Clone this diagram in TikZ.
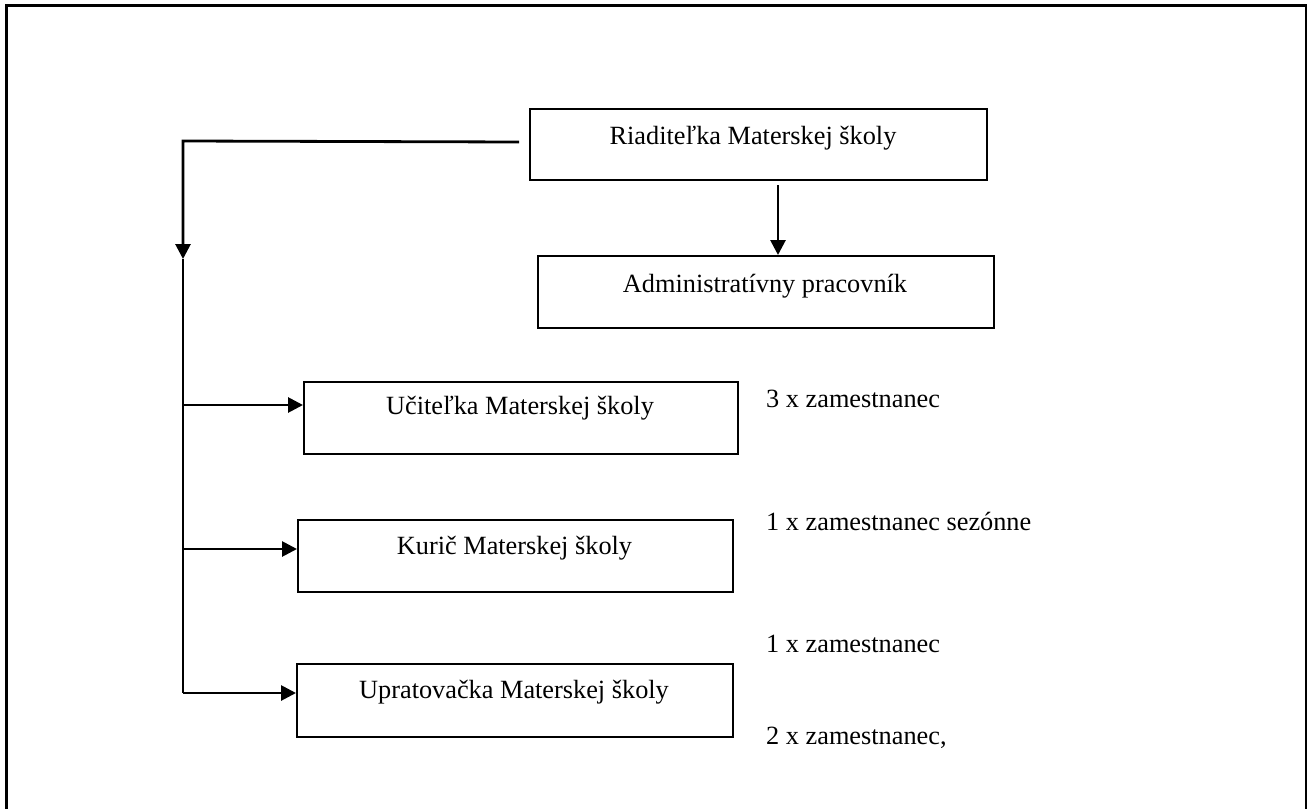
\documentclass[tikz,border=0pt]{standalone}
\usepackage{fontspec}
\setmainfont{Liberation Serif}
\usetikzlibrary{arrows.meta}
\begin{document}
\begin{tikzpicture}[x=1pt,y=-1pt,
  box/.style={draw,line width=2pt,inner sep=0pt,anchor=north west},
  conn/.style={line width=2.8pt},
  arr/.style={conn,-{Triangle[length=15pt,width=15pt]}},
  lbl/.style={font=\fontsize{26.3}{30}\selectfont,anchor=base,inner sep=0pt},
  side/.style={font=\fontsize{26.3}{30}\selectfont,anchor=base west,inner sep=0pt}]
\useasboundingbox (0,0) rectangle (1308,808);
% outer frame
\draw[line width=2.4pt] (6.5,820) -- (6.5,5.5) -- (1306,5.5) -- (1306,820);
% boxes
\node[box,minimum width=457pt,minimum height=71pt] (riad) at (529,108) {};
\node[box,minimum width=456pt,minimum height=72pt] (adm) at (537,255) {};
\node[box,minimum width=434pt,minimum height=72pt] (uc) at (303,381) {};
\node[box,minimum width=435pt,minimum height=72pt] (kur) at (297,519) {};
\node[box,minimum width=436pt,minimum height=73pt] (upr) at (296,663) {};
% box texts
\node[lbl] (triad) at (753,144) {Riaditeľka Materskej školy};
\node[lbl] (tadm) at (765,292) {Administratívny pracovník};
\node[lbl] (tuc) at (520,414) {Učiteľka Materskej školy};
\node[lbl] (tkur) at (514.5,554) {Kurič Materskej školy};
\node[lbl] (tupr) at (514,698) {Upratovačka Materskej školy};
% side texts
\node[side] (s1) at (766,407) {3 x zamestnanec};
\node[side] (s2) at (766,530) {1 x zamestnanec sezónne};
\node[side] (s3) at (766,652) {1 x zamestnanec};
\node[side] (s4) at (766,744) {2 x zamestnanec,};
% connectors
\coordinate (c1) at (183,141);
\coordinate (c2) at (183,259);
\coordinate (c3) at (183,693);
\draw[arr] ([xshift=19.5pt,yshift=-4pt]riad.south) -- ([xshift=19.5pt]riad.south |- adm.north);
\draw[arr] ([xshift=-10pt,yshift=2.5pt]riad.west) -- (c1) -- (c2);
\draw[line width=2pt] (c2) -- (c3);
\draw[arr] (c2 |- 0,405) -- (uc.west |- 0,405);
\draw[arr] (c2 |- 0,549) -- (kur.west |- 0,549);
\draw[arr] (c3) -- (upr.west |- c3);
\end{tikzpicture}
\end{document}
